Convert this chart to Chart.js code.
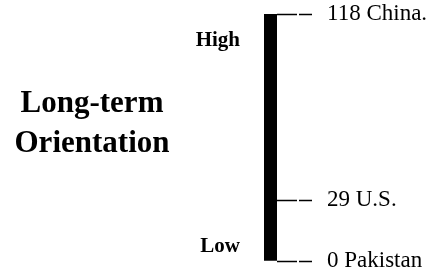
<!DOCTYPE html>
<html>
<head>
<meta charset="utf-8">
<script src="https://cdn.jsdelivr.net/npm/chart.js@4/dist/chart.umd.min.js"></script>
<style>
  html, body { margin: 0; padding: 0; background: #fff; }
  #wrap { width: 444px; height: 275px; position: relative; }
</style>
</head>
<body>
<div id="wrap"><canvas id="c"></canvas></div>
<script>
// Data
const categories = ['Long-term Orientation'];
const scoreValues = [0, 29, 118];
const countryNames = ['Pakistan', 'U.S.', 'China.'];
const rangeMin = [0];
const rangeMax = [118];
const axisTitleLines = ['Long-term', 'Orientation'];
const highLabel = 'High';
const lowLabel = 'Low';

const tickLabelFor = {};
scoreValues.forEach((v, i) => { tickLabelFor[v] = v + ' ' + countryNames[i]; });

const textPlugin = {
  id: 'sideText',
  afterDraw(chart) {
    const ctx = chart.ctx;
    const a = chart.chartArea;
    ctx.save();
    ctx.fillStyle = '#000';
    ctx.textBaseline = 'alphabetic';
    ctx.textAlign = 'center';
    ctx.font = 'bold 31px "Liberation Serif", "Times New Roman", serif';
    ctx.fillText(axisTitleLines[0], 92, 112);
    ctx.fillText(axisTitleLines[1], 92, 152);
    ctx.textAlign = 'right';
    ctx.font = 'bold 21px "Liberation Serif", "Times New Roman", serif';
    ctx.fillText(highLabel, a.left - 24, a.top + 32);
    ctx.fillText(lowLabel, a.left - 24, a.bottom - 9);
    ctx.restore();
  }
};

new Chart(document.getElementById('c'), {
  type: 'bar',
  data: {
    labels: categories,
    datasets: [{
      data: categories.map((c, i) => [rangeMin[i], rangeMax[i]]),
      backgroundColor: '#000',
      borderWidth: 0,
      barPercentage: 1,
      categoryPercentage: 1
    }]
  },
  options: {
    responsive: true,
    maintainAspectRatio: false,
    animation: false,
    layout: { padding: { left: 264, right: 0, top: 14, bottom: 14 } },
    plugins: { legend: { display: false }, tooltip: { enabled: false } },
    scales: {
      x: { display: false },
      y: {
        position: 'right',
        min: 0,
        max: 118,
        afterBuildTicks(scale) { scale.ticks = scoreValues.map(v => ({ value: v })); },
        afterFit(scale) { scale.width = 167; scale.paddingTop = 0; scale.paddingBottom = 0; },
        border: { display: false },
        grid: {
          drawOnChartArea: false,
          drawTicks: true,
          tickLength: 35,
          tickColor: '#000',
          tickWidth: 1.5,
          tickBorderDash: [20, 2]
        },
        ticks: {
          color: '#000',
          padding: 15,
          font: { family: '"Liberation Serif", "Times New Roman", serif', size: 23 },
          callback: (v) => tickLabelFor[v]
        }
      }
    }
  },
  plugins: [textPlugin]
});
</script>
</body>
</html>
